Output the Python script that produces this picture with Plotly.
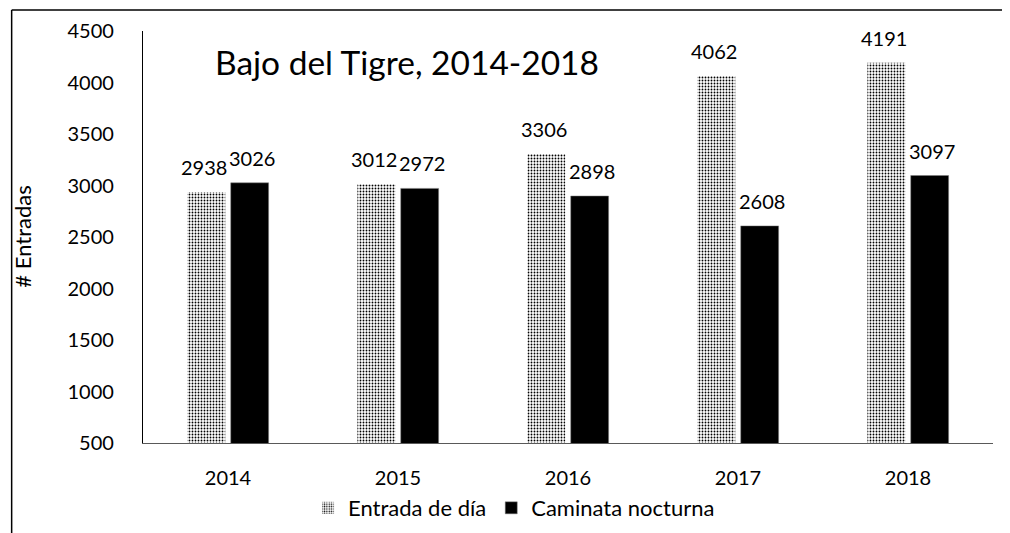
import plotly.graph_objects as go

years = ["2014", "2015", "2016", "2017", "2018"]
entrada_dia = [2938, 3012, 3306, 4062, 4191]
caminata_nocturna = [3026, 2972, 2898, 2608, 3097]
y_ticks = [500, 1000, 1500, 2000, 2500, 3000, 3500, 4000, 4500]

FONT = "Lato"
OFF = 8  # browser body margin
W, H = 1010 - OFF, 533 - OFF
# plot area in window pixels
X0, X1, Y0, Y1 = 142.5, 993.5, 31, 443
L, R, T, B = X0 - OFF, W - (X1 - OFF), Y0 - OFF, H - (Y1 - OFF)
pw, ph = X1 - X0, Y1 - Y0

def px_to_paper_x(px):
    return (px - X0) / pw

def px_to_paper_y(py):
    return (Y1 - py) / ph

fig = go.Figure()
fig.add_trace(go.Bar(
    x=years, y=entrada_dia, name="Entrada de día",
    marker=dict(color="white", line=dict(width=0),
                pattern=dict(shape=".", fgcolor="black", bgcolor="white",
                             size=3, solidity=0.3, fillmode="replace")),
))
fig.add_trace(go.Bar(
    x=years, y=caminata_nocturna, name="Caminata nocturna",
    marker=dict(color="black", line=dict(color="#7f7f7f", width=0.5)),
))

# data labels (x given as category index)
for i, v in enumerate(entrada_dia):
    fig.add_annotation(x=i, y=v, text=str(v), showarrow=False, xshift=-24, yshift=25,
                       yanchor="middle", font=dict(family=FONT, size=20, color="black"))
for i, v in enumerate(caminata_nocturna):
    fig.add_annotation(x=i, y=v, text=str(v), showarrow=False, xshift=24, yshift=25,
                       yanchor="middle", font=dict(family=FONT, size=20, color="black"))

# title
fig.add_annotation(xref="paper", yref="paper", x=px_to_paper_x(406.5), y=px_to_paper_y(62),
                   text="Bajo del Tigre, 2014-2018", showarrow=False, xanchor="center", yanchor="middle",
                   font=dict(family=FONT, size=33.5, color="black"))
# y axis title
fig.add_annotation(xref="paper", yref="paper", x=px_to_paper_x(21), y=px_to_paper_y(237),
                   text="# Entradas", textangle=-90, showarrow=False, xanchor="center", yanchor="middle",
                   font=dict(family=FONT, size=22, color="black"))

# outer frame (left and top edges)
fig.add_shape(type="line", xref="paper", yref="paper",
              x0=px_to_paper_x(11), x1=px_to_paper_x(1012), y0=px_to_paper_y(10), y1=px_to_paper_y(10),
              line=dict(color="black", width=1.5))
fig.add_shape(type="line", xref="paper", yref="paper",
              x0=px_to_paper_x(11), x1=px_to_paper_x(11), y0=px_to_paper_y(10), y1=px_to_paper_y(540),
              line=dict(color="black", width=1.5))

fig.update_layout(
    width=W, height=H,
    margin=dict(l=L, r=R, t=T, b=B, pad=0, autoexpand=False),
    paper_bgcolor="white", plot_bgcolor="white",
    barmode="group", bargap=0.49, bargroupgap=0.126,
    showlegend=True,
    legend=dict(orientation="h", x=px_to_paper_x(514), y=px_to_paper_y(508),
                xanchor="center", yanchor="middle", bgcolor="rgba(0,0,0,0)",
                font=dict(family=FONT, size=22, color="black"),
                tracegroupgap=0),
    font=dict(family=FONT, size=20, color="black"),
)
fig.update_xaxes(type="category", range=[-0.5, 4.5], showline=True, linecolor="#595959", linewidth=1.3,
                 showgrid=False, ticks="", ticklabelstandoff=17,
                 tickfont=dict(family=FONT, size=20, color="black"))
fig.update_yaxes(range=[500, 4500], tickvals=y_ticks, showline=True, linecolor="black", linewidth=1.3,
                 showgrid=False, zeroline=False, ticks="", ticklabelstandoff=24,
                 tickfont=dict(family=FONT, size=20, color="black"))

fig.write_html("out.html")
